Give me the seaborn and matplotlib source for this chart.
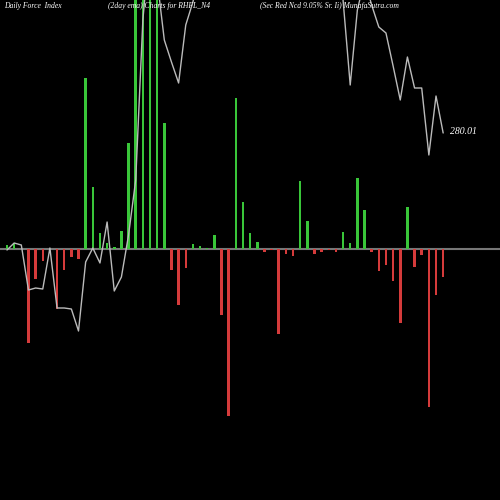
import matplotlib
matplotlib.use("Agg")
import matplotlib.pyplot as plt
import seaborn as sns
import numpy as np
import pandas as pd

force = [4, 6, 0, -94, -30, -12, 0, -60, -21, -8, -10, 171, 62, 16, 6, 2, 18, 106,
         300, 300, 300, 300, 126, -21, -56, -19, 5, 3, 1, 14, -66, -167, 151, 47, 16, 7,
         -3, -1, -85, -5, -7, 68, 28, -5, -3, -1, -3, 17, 6, 71, 39, -3, -22, -16, -32,
         -74, 42, -18, -6, -158, -46, -28]
# price line, in screen-height units (higher = up)
line = [250, 257, 255, 210, 212, 211, 252, 192, 192, 191, 169, 238, 252, 237, 278, 209,
        223, 265, 320, 480, 560, 520, 460, 438, 417, 475, 498, 530, 560, 580, 590, 600,
        600, 595, 590, 585, 580, 575, 570, 565, 560, 555, 550, 545, 540, 530, 520, 500,
        415, 490, 520, 495, 473, 467, 434, 400, 443, 412, 412, 345, 404, 367]
last_label = "280.01"

sns.set_theme(style="dark")
plt.rcParams['font.family'] = ['Liberation Serif', 'DejaVu Serif']
fig = plt.figure(figsize=(5, 5), dpi=100, facecolor="black")
ax = fig.add_axes([0, 0, 1, 1])
ax.set_facecolor("black")

n = len(force)
df = pd.DataFrame({"i": np.arange(n), "v": force,
                   "s": ["up" if v >= 0 else "down" for v in force]})
ax.axhline(0, color="#777777", lw=1.5, zorder=1)
sns.barplot(data=df, x="i", y="v", hue="s", palette={"up": "#22dd22", "down": "#ee2222"},
            native_scale=True, width=0.35, legend=False, ax=ax, zorder=2, edgecolor="none")
ax.set_xlim(-0.98, 68.95)
ax.set_ylim(-251, 249)

ax2 = ax.twinx()
ldf = pd.DataFrame({"i": np.arange(len(line)), "p": line})
sns.lineplot(data=ldf, x="i", y="p", color="#bbbbbb", lw=1.0, ax=ax2)
ax2.set_ylim(0, 500)
ax2.set_xlim(-0.98, 68.95)
for a in (ax, ax2):
    a.set_xticks([]); a.set_yticks([]); a.set_xlabel(""); a.set_ylabel("")
    for s in a.spines.values():
        s.set_visible(False)

kw = dict(color="white", fontsize=5.5, style="italic", va="center", transform=fig.transFigure)
fig.text(4/500, 1-6/500, "Daily Force  Index", **kw)
fig.text(108/500, 1-6/500, "(2day ema) Charts for RHFL_N4", **kw)
fig.text(260/500, 1-6/500, "(Sec Red Ncd 9.05% Sr. Ii) MunafaSutra.com", **kw)
fig.text(450/500, 1-131/500, last_label, color="white", fontsize=7, style="italic",
         va="center", transform=fig.transFigure)

fig.savefig("out.png", dpi=100, facecolor="black")
